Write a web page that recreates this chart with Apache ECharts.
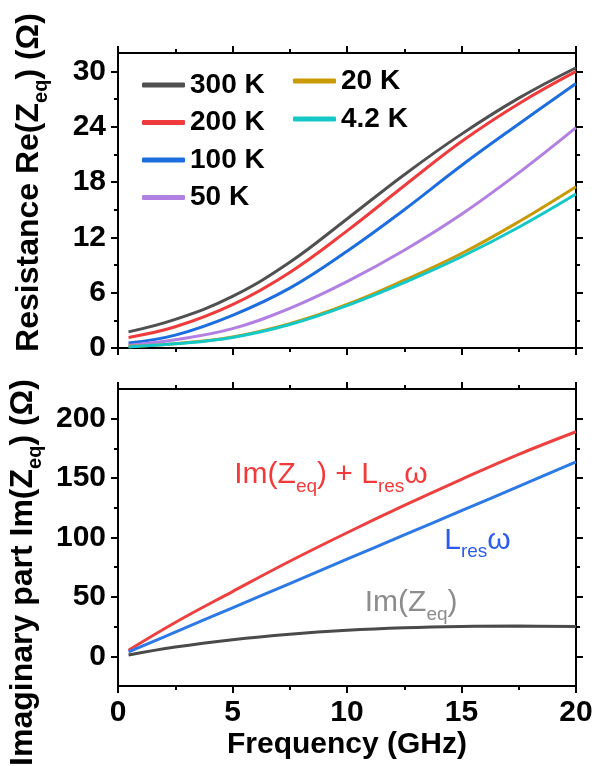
<!DOCTYPE html>
<html>
<head>
<meta charset="utf-8">
<script src="https://cdn.jsdelivr.net/npm/echarts@6/dist/echarts.min.js"></script>
<style>
html,body{margin:0;padding:0;background:#fff;}
#chart{width:594px;height:766px;}
</style>
</head>
<body>
<div id="chart"></div>
<script>
// ---- data ----
const freq = [0.46, 2.5, 5, 7.5, 10, 12.5, 15, 17.5, 20];
const re300 = [1.75, 3.1, 5.6, 9.3, 14.0, 18.8, 23.2, 27.1, 30.4];
const re200 = [1.15, 2.3, 4.7, 8.2, 12.7, 17.6, 22.4, 26.5, 30.0];
const re100 = [0.55, 1.4, 3.55, 6.5, 10.5, 15.0, 19.8, 24.3, 28.7];
const re50  = [0.3, 0.9, 2.1, 4.3, 7.2, 10.6, 14.5, 19.0, 23.9];
const re20  = [0.18, 0.47, 1.2, 2.64, 4.72, 7.35, 10.25, 13.7, 17.5];
const re4   = [0.12, 0.45, 1.15, 2.55, 4.6, 7.1, 9.9, 13.1, 16.7];
const imSum = [5.1, 28.5, 54.5, 80, 104, 127, 149, 170, 189];
const lres  = [3.7, 20.4, 40.8, 61.2, 81.7, 102.2, 122.6, 143.0, 163.6];
const imZ   = [1.1, 7.8, 14.0, 18.6, 21.9, 24.0, 25.1, 25.4, 25.1];

const reNames = ['300 K', '200 K', '100 K', '50 K', '20 K', '4.2 K'];
const reColors = ['#505050', '#ef3b3b', '#1c6ee0', '#b27fe2', '#c99a04', '#14c8c8'];
const reSeries = [re300, re200, re100, re50, re20, re4];

const xTicks = [0, 5, 10, 15, 20];
const reTicks = [0, 6, 12, 18, 24, 30];
const reMinor = [3, 9, 15, 21, 27];
const imTicks = [0, 50, 100, 150, 200];
const imMinor = [25, 75, 125, 175];

// ---- helpers ----
const FONT = 'Liberation Sans';
const lineSty = {color: '#000', width: 2};
const tickLabel = {fontFamily: FONT, fontWeight: 'bold', fontSize: 30, color: '#000'};
const pair = a => freq.map((f, i) => [f, a[i]]);

function xAx(grid, pos, labels, extra) {
  return Object.assign({
    type: 'value', gridIndex: grid, position: pos, min: 0, max: 20, interval: 5,
    axisLine: {show: true, onZero: false, lineStyle: lineSty},
    axisTick: {show: true, inside: false, length: 7, lineStyle: lineSty},
    minorTick: {show: true, splitNumber: 2, length: 4, lineStyle: lineSty},
    splitLine: {show: false},
    axisLabel: Object.assign({show: labels, margin: 12}, tickLabel)
  }, extra || {});
}
function yAx(grid, pos, min, max, vals, labels, len, showLine, extra) {
  return Object.assign({
    type: 'value', gridIndex: grid, position: pos, min: min, max: max,
    axisLine: {show: showLine, onZero: false, lineStyle: lineSty},
    axisTick: {show: true, inside: false, length: len, lineStyle: lineSty, customValues: vals},
    splitLine: {show: false},
    axisLabel: Object.assign({show: labels, margin: 12, customValues: vals}, tickLabel)
  }, extra || {});
}
const nameRich = {
  a: {fontFamily: FONT, fontWeight: 'bold', fontSize: 32, lineHeight: 43, color: '#000'},
  s: {fontFamily: FONT, fontWeight: 'bold', fontSize: 20, lineHeight: 20, verticalAlign: 'bottom', color: '#000'}
};

function annot(text, color, coord) {
  return {
    symbol: 'circle', symbolSize: 1, silent: true,
    itemStyle: {color: 'rgba(0,0,0,0)'},
    label: {show: true, position: 'inside', color: color, formatter: text,
      rich: {
        a: {fontFamily: FONT, fontSize: 30, lineHeight: 42, color: color},
        s: {fontFamily: FONT, fontSize: 19, lineHeight: 19, verticalAlign: 'bottom', color: color}
      }},
    data: [{coord: coord}]
  };
}

const smoothOpt = {smooth: 0.4, showSymbol: false};
const series = [];
reSeries.forEach((d, i) => {
  series.push(Object.assign({name: reNames[i], type: 'line', xAxisIndex: 0, yAxisIndex: 0,
    data: pair(d), lineStyle: {width: 3, color: reColors[i]}, itemStyle: {color: reColors[i]}}, smoothOpt));
});
series.push(Object.assign({name: 'sum', type: 'line', xAxisIndex: 2, yAxisIndex: 4, data: pair(imSum),
  lineStyle: {width: 3, color: '#ef4040'},
  markPoint: annot('{a|Im(Z}{s|eq}{a|) + L}{s|res}{a|ω}', '#f23a3a', [9.3, 152.5])}, smoothOpt));
series.push(Object.assign({name: 'lres', type: 'line', xAxisIndex: 2, yAxisIndex: 4, data: pair(lres),
  lineStyle: {width: 3, color: '#2d79e6'},
  markPoint: annot('{a|L}{s|res}{a|ω}', '#2a5cf0', [15.7, 97.5])}, smoothOpt));
series.push(Object.assign({name: 'imz', type: 'line', xAxisIndex: 2, yAxisIndex: 4, data: pair(imZ),
  lineStyle: {width: 3, color: '#4a4a4a'},
  markPoint: annot('{a|Im(Z}{s|eq}{a|)}', '#8c8c8c', [12.8, 45])}, smoothOpt));

const legendText = {fontFamily: FONT, fontWeight: 'bold', fontSize: 28, color: '#000'};
const option = {
  animation: false,
  backgroundColor: '#fff',
  grid: [
    {left: 118, right: 18, top: 53, height: 295, outerBoundsMode: 'none', containLabel: false},
    {left: 118, right: 18, top: 389, height: 297, outerBoundsMode: 'none', containLabel: false}
  ],
  legend: [
    {data: reNames.slice(0, 4), orient: 'vertical', left: 137, top: 66, itemWidth: 43, itemHeight: 5,
     itemGap: 9.5, icon: 'roundRect', selectedMode: false, textStyle: legendText},
    {data: reNames.slice(4), orient: 'vertical', left: 288, top: 62, itemWidth: 43, itemHeight: 5,
     itemGap: 10, icon: 'roundRect', selectedMode: false, textStyle: legendText}
  ],
  xAxis: [
    xAx(0, 'bottom', false),
    xAx(0, 'top', false),
    xAx(1, 'bottom', true, {name: 'Frequency (GHz)', nameLocation: 'middle', nameGap: 44,
      nameTextStyle: {fontFamily: FONT, fontWeight: 'bold', fontSize: 30, color: '#000'}}),
    xAx(1, 'top', false)
  ],
  yAxis: [
    yAx(0, 'left', 0, 32, reTicks, true, 7, true, {
      name: '{a|Resistance Re(Z}{s|eq}{a|) (Ω)}', nameLocation: 'middle', nameGap: 67,
      nameTextStyle: {rich: nameRich, padding: [0, 0, 0, 36]}}),
    yAx(0, 'right', 0, 32, reTicks, false, 7, true),
    yAx(0, 'left', 0, 32, reMinor, false, 4, false),
    yAx(0, 'right', 0, 32, reMinor, false, 4, false),
    yAx(1, 'left', -25, 225, imTicks, true, 7, true, {
      name: '{a|Imaginary part Im(Z}{s|eq}{a|) (Ω)}', nameLocation: 'middle', nameGap: 67,
      nameTextStyle: {rich: nameRich, padding: [0, 70, 0, 0]}}),
    yAx(1, 'right', -25, 225, imTicks, false, 7, true),
    yAx(1, 'left', -25, 225, imMinor, false, 4, false),
    yAx(1, 'right', -25, 225, imMinor, false, 4, false)
  ],
  series: series
};
const chart = echarts.init(document.getElementById('chart'), null, {renderer: 'canvas'});
chart.setOption(option);
</script>
</body>
</html>
